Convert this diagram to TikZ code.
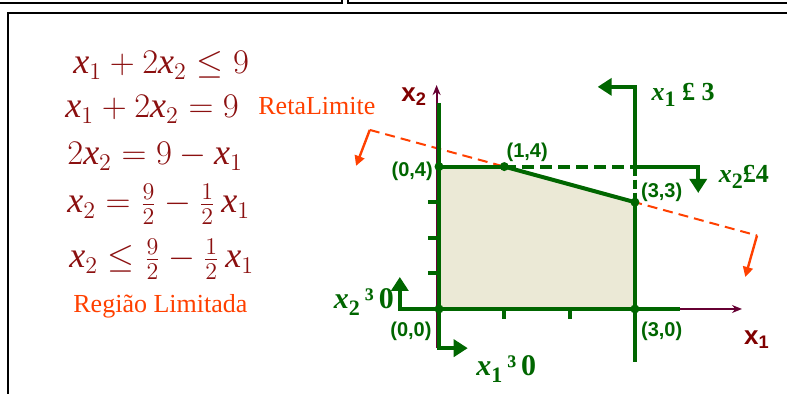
\documentclass[tikz,border=0pt]{standalone}
\usepackage{amsmath}
\usepackage{fontspec}
\setmainfont{Liberation Serif}
\setsansfont{Liberation Sans}
\usepackage{tikz}
\usetikzlibrary{arrows.meta,positioning}

\definecolor{eqred}{RGB}{139,16,16}
\definecolor{axred}{RGB}{128,0,0}
\definecolor{axline}{RGB}{102,0,51}
\definecolor{cgreen}{RGB}{0,102,0}
\definecolor{limred}{RGB}{255,64,0}
\definecolor{regfill}{RGB}{235,233,214}
\newcommand{\xv}{\mathit{x}}
\newcommand{\cx}[1]{{\itshape x}\raisebox{-0.5ex}{\fontsize{11}{12}\selectfont #1}}

\tikzset{
  eqn/.style={text=eqred, font=\fontsize{18}{20}\selectfont, anchor=base west, inner sep=0pt},
  redtxt/.style={text=limred, font=\fontsize{13}{15}\selectfont, anchor=base west, inner sep=0pt},
  ptlabel/.style={text=cgreen, font=\sffamily\bfseries\fontsize{10}{12}\selectfont, inner sep=0pt},
  cons/.style={text=cgreen, font=\bfseries\fontsize{13}{15}\selectfont, inner sep=0pt},
  bigcons/.style={cons, font=\bfseries\fontsize{15}{17}\selectfont},
  axlabel/.style={text=axred, font=\sffamily\bfseries\fontsize{13}{15}\selectfont, inner sep=0pt},
  consline/.style={cgreen, line width=2pt},
  consarrow/.style={consline, -{Triangle[length=7pt,width=8.5pt]}},
  axisline/.style={axline, line width=1pt, -{Stealth[length=5pt,width=4pt]}},
  limline/.style={limred, line width=1pt, dash pattern=on 5pt off 3pt},
  limarrow/.style={limred, line width=1.2pt, -{Triangle[length=5pt,width=5pt]}},
  vertex/.style={circle, fill=cgreen, inner sep=0pt, minimum size=4.5pt}
}

\begin{document}
\begin{tikzpicture}[x=0.5pt,y=-0.5pt]
  \useasboundingbox (0,0) rectangle (787,394);
  % frames
  \draw[line width=1pt] (0,3) -- (342,3) -- (342,0);
  \draw[line width=1pt] (348,0) -- (348,3) -- (787,3);
  \draw[line width=1pt] (787,13) -- (8,13) -- (8,394);

  % equations
  \node[eqn] (eqa) at (73,74) {$\xv_1 + 2\xv_2 \leq 9$};
  \node[eqn] (eqb) at (65,118) {$\xv_1 + 2\xv_2 = 9$};
  \node[eqn] (eqc) at (67,165) {$2\xv_2 = 9 - \xv_1$};
  \node[eqn] (eqd) at (67,213) {$\xv_2 = \tfrac{9}{2} - \tfrac{1}{2}\,\xv_1$};
  \node[eqn] (eqe) at (69,268) {$\xv_2 \leq \tfrac{9}{2} - \tfrac{1}{2}\,\xv_1$};
  \node[redtxt] (reg) at (73,313) {Região Limitada};
  \node[redtxt] (reta) at (258,115) {RetaLimite};

  \begin{scope}[shift={(439,309)}, x=32.65pt, y=17.8pt]
    \coordinate (p00) at (0,0);
    \coordinate (p04) at (0,4);
    \coordinate (p14) at (1,4);
    \coordinate (p33) at (3,3);
    \coordinate (p30) at (3,0);
    \coordinate (p34) at (3,4);

    \fill[regfill] (p00) -- (p04) -- (p14) -- (p33) -- (p30) -- cycle;

    % limit line x1 + 2x2 = 9
    \coordinate (la) at (-1.06,5.03);
    \coordinate (lb) at (4.87,2.065);
    \draw[limline] (la) -- (lb);
    \draw[limarrow] (la) -- (-1.27,4.02);
    \draw[limarrow] (lb) -- (4.69,0.9);

    % axes
    \draw[axisline] (0,0) -- (4.64,0);
    \draw[axisline] ([xshift=-1.2pt]0,-1.1) -- ([xshift=-1.2pt]0,6.29);
    \foreach \t in {1,2,3} \draw[consline] (-0.17,\t) -- (0,\t);
    \foreach \t in {1,2} \draw[consline] (\t,0) -- (\t,-0.27);

    % constraints
    \draw[consarrow] (3.69,0) -- (-0.6,0) -- (-0.6,0.9);
    \draw[consarrow] (0,5.79) -- (0,-1.1) -- (0.44,-1.1);
    \draw[consarrow] (p34) -- (3,6.24) -- (2.43,6.24);
    \draw[consline, dash pattern=on 4.5pt off 2pt] (p34) -- (p33);
    \draw[consline] (p33) -- (3,-1.49);
    \draw[consline] (p04) -- (p14);
    \draw[consline, dash pattern=on 6pt off 3pt] (p14) -- (p34);
    \draw[consarrow] (p34) -- (3.97,4) -- (3.97,3.26);
    \draw[consline] (p14) -- (p33);

    \foreach \p in {p00,p04,p14,p33,p30} \node[vertex] at (\p) {};

    % labels
    \node[ptlabel, anchor=east] (l04) at (-0.09,3.87) {(0,4)};
    \node[ptlabel] (l14) at (1.35,4.39) {(1,4)};
    \node[ptlabel] (l33) at (3.41,3.27) {(3,3)};
    \node[ptlabel] (l00) at (-0.43,-0.62) {(0,0)};
    \node[ptlabel] (l30) at (3.41,-0.62) {(3,0)};
    \node[axlabel] (ax2) at (-0.38,5.96) {x\textsubscript{2}};
    \node[axlabel] (ax1) at (4.87,-0.87) {x\textsubscript{1}};
    \node[cons] (c13) at (3.74,6.01) {\cx{1} £ 3};
    \node[cons] (c24) at (4.67,3.71) {\cx{2}£4};
    \node[bigcons] (c20) at (-1.15,0.2) {\cx{2}\,³\,0};
    \node[bigcons] (c10) at (1.03,-1.69) {\cx{1}\,³\,0};
  \end{scope}
\end{tikzpicture}
\end{document}
